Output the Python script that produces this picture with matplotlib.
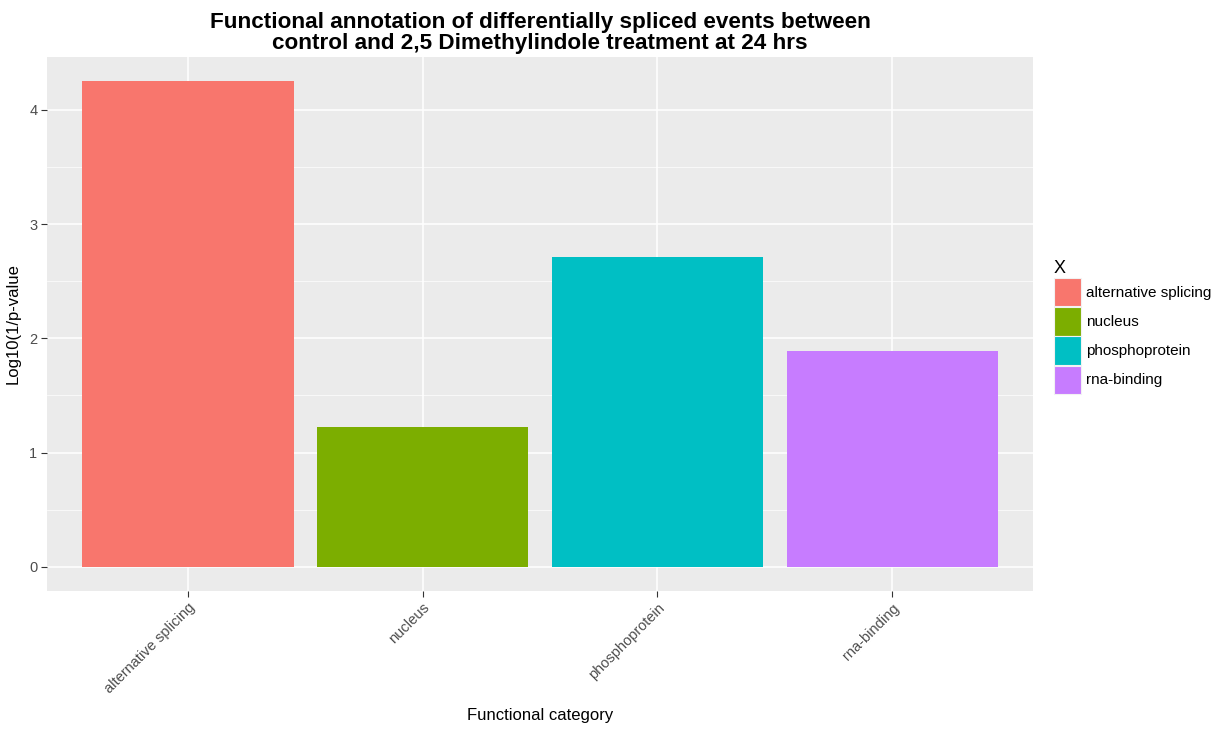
import numpy as np
import matplotlib
matplotlib.use("Agg")
import matplotlib.pyplot as plt
from matplotlib.patches import Patch

plt.rcParams['font.family'] = ['Liberation Sans', 'DejaVu Sans']

categories = ['alternative splicing', 'nucleus', 'phosphoprotein', 'rna-binding']
values = [4.25, 1.22, 2.71, 1.89]
colors = ['#F8766D', '#7CAE00', '#00BFC4', '#C77CFF']
yticks = [0, 1, 2, 3, 4]

fig = plt.figure(figsize=(12.25, 7.29), dpi=100)
ax = fig.add_axes([47 / 1225, 1 - 591 / 729, (1033 - 47) / 1225, (591 - 57) / 729])
ax.set_facecolor('#EBEBEB')

x = np.arange(1, len(categories) + 1)
ax.bar(x, values, width=0.9, color=colors, zorder=3)

# ggplot-like expansion
ymax = max(values)
ax.set_ylim(-0.05 * ymax, ymax * 1.05)
ax.set_xlim(0.4, len(categories) + 0.6)

ax.set_yticks(yticks)
ax.set_yticks(np.arange(0.5, 4.5, 1.0), minor=True)
ax.set_xticks(x)
ax.set_xticklabels(categories, rotation=45, ha='right', va='top', rotation_mode='anchor')
ax.grid(which='major', color='white', linewidth=1.1, zorder=0)
ax.grid(which='minor', axis='y', color='white', linewidth=0.5, zorder=0)
ax.set_axisbelow(True)
for s in ax.spines.values():
    s.set_visible(False)
ax.tick_params(which='major', length=4, width=0.8, color='#333333', labelcolor='#4D4D4D',
               labelsize=10.5, pad=3)
ax.tick_params(which='minor', length=0)

ax.set_xlabel('Functional category', fontsize=12, labelpad=8)
ax.set_ylabel('Log10(1/p-value', fontsize=12, labelpad=6)
ax.set_title('Functional annotation of differentially spliced events between\n'
             'control and 2,5 Dimethylindole treatment at 24 hrs',
             fontsize=16.2, fontweight='bold', linespacing=0.98, pad=6)

handles = [Patch(facecolor=c, edgecolor='#F2F2F2', linewidth=0.8, label=l)
           for c, l in zip(colors, categories)]
leg = ax.legend(handles=handles, title='X', loc='upper left',
                bbox_to_anchor=(1051 / 1225, 1 - 257 / 729), bbox_transform=fig.transFigure,
                frameon=False, fontsize=11, title_fontsize=13,
                handlelength=1.77, handleheight=2.49, labelspacing=0.05,
                handletextpad=0.35, borderpad=0.2, borderaxespad=0)
leg._legend_box.align = 'left'

fig.savefig('out.png', dpi=100)
